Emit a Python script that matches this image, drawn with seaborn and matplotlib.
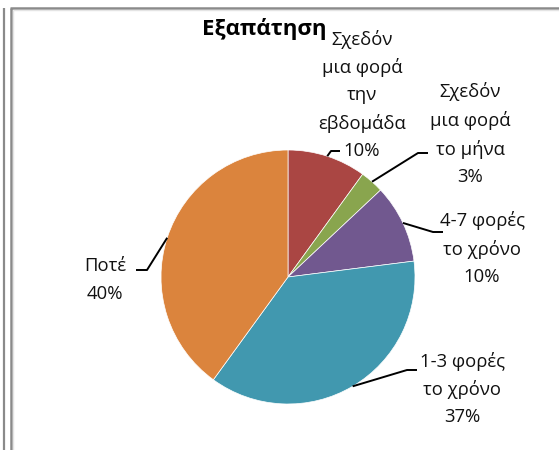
import numpy as np
import matplotlib
matplotlib.use("Agg")
import matplotlib.pyplot as plt
import seaborn as sns

sns.set_theme(style="white")
plt.rcParams["font.family"] = ["Open Sans", "DejaVu Sans"]

# Data
title = "Εξαπάτηση"
categories = [
    "Σχεδόν\nμια φορά\nτην\nεβδομάδα",
    "Σχεδόν\nμια φορά\nτο μήνα",
    "4-7 φορές\nτο χρόνο",
    "1-3 φορές\nτο χρόνο",
    "Ποτέ",
]
values = [10, 3, 10, 37, 40]
colors = ["#AA4643", "#89A54E", "#71588F", "#4198AF", "#DB843D"]

W, H = 559, 450
fig = plt.figure(figsize=(W / 100, H / 100), dpi=100)
ax = fig.add_axes([0, 0, 1, 1])


def py(y):
    """Convert a top-down pixel row into the axes' y coordinate."""
    return H - y


# Pie
cx, cy, r = 288, py(277), 127
wedges, _ = ax.pie(
    values,
    colors=colors,
    startangle=90,
    counterclock=False,
    center=(cx, cy),
    radius=r,
    frame=True,
    wedgeprops=dict(edgecolor="white", linewidth=0.5),
)
ax.set_xlim(0, W)
ax.set_ylim(0, H)
ax.set_aspect("equal")
ax.axis("off")

# Window frame
frame_c = "#8a8a8a"
ax.plot([3.5, 3.5], [py(8), py(452)], color=frame_c, lw=1.6, solid_capstyle="butt")
ax.plot([11, 11], [py(8), py(452)], color=frame_c, lw=1.8, solid_capstyle="butt")
ax.plot([10, 560], [py(8), py(8)], color=frame_c, lw=1.8, solid_capstyle="butt")
ax.plot([13, 13], [py(10), py(452)], color="#e4e4e4", lw=1.0, solid_capstyle="butt")
ax.plot([13, 560], [py(10.2), py(10.2)], color="#e4e4e4", lw=1.0, solid_capstyle="butt")

ax.text(264, py(29), title, ha="center", va="center",
        fontsize=16, fontweight="bold", color="black")

# Data labels: block centre and leader elbow/end (pixels)
label_pos = [(362, 95), (470, 134), (482, 248.5), (462, 389), (105, 280)]
leaders = [
    [(331, 151), (340, 151)],
    [(418, 153), (428, 153)],
    [(433, 232), (443, 232)],
    [(407, 370), (417, 370)],
    [(147, 270), (136, 270)],
]

for w, cat, v, (lx, ly), pts in zip(wedges, categories, values, label_pos, leaders):
    ang = np.deg2rad((w.theta1 + w.theta2) / 2)
    ax_pt = (w.center[0] + w.r * np.cos(ang), w.center[1] + w.r * np.sin(ang))
    xs = [ax_pt[0]] + [p[0] for p in pts]
    ys = [ax_pt[1]] + [py(p[1]) for p in pts]
    ax.plot(xs, ys, color="black", lw=1.4, solid_capstyle="butt")
    ax.text(lx, py(ly), f"{cat}\n{v}%", ha="center", va="center",
            fontsize=13.3, linespacing=1.65, color="#111111")

fig.savefig("out.png", dpi=100)
